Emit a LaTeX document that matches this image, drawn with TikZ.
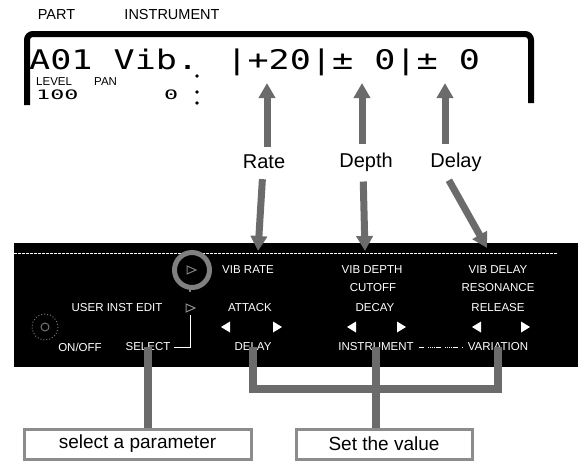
\documentclass[tikz,border=0pt]{standalone}
\usepackage{fontspec}
\setmainfont{Liberation Sans}
\newfontfamily\lcdfont[FakeStretch=1.3]{DejaVu Sans Mono}
\newfontfamily\lcdsmall[FakeStretch=1.8]{DejaVu Sans Mono}
\usetikzlibrary{arrows.meta}
\begin{document}
\begin{tikzpicture}[x=1pt,y=-1pt,
  lbl/.style={font=\fontsize{14.5}{16}\selectfont, inner sep=0},
  lcd/.style={font=\lcdfont\fontsize{27}{30}\selectfont, inner sep=0, anchor=base west},
  lcds/.style={font=\lcdsmall\fontsize{13}{14}\selectfont, inner sep=0, anchor=base west},
  tiny/.style={font=\fontsize{11.5}{12}\selectfont, inner sep=0, anchor=base west},
  pl/.style={text=white, font=\fontsize{11.5}{13}\selectfont, inner sep=0},
  big/.style={font=\fontsize{20}{22}\selectfont, inner sep=0},
  stip/.style={draw=black!58, line width=7pt},
  arr/.style={stip, -{Triangle[width=16pt,length=15pt]}},
  conn/.style={draw=black!58, line width=8pt},
  boxed/.style={draw=black!45, line width=3pt, fill=white, minimum height=30pt, inner sep=0, font=\fontsize{19}{21}\selectfont}
]
\useasboundingbox (0,0) rectangle (580,461);

% top labels
\node[lbl] (part) at (56.5,15) {PART};
\node[lbl] (instr) at (172,15) {INSTRUMENT};

% LCD frame
\draw[line width=6pt, rounded corners=6pt] (27,105) -- (27,34) -- (531,34) -- (531,103);
\node[lcd] (lcdrow) at (29,69) {A01 Vib. |+20|± 0|± 0};
\node[tiny] (level) at (36,85) {LEVEL};
\node[tiny] (pan) at (94,85) {PAN};
\node[lcds] (levval) at (36,99) {100};
\node[lcds] (panval) at (164,99) {0};
\fill (197,76) circle (1.8) (197,92) circle (1.8) (197,103) circle (1.8);

% arrow tips at LCD
\coordinate (rateTip) at (267,83);
\coordinate (depthTip) at (362,83);
\coordinate (delayTip) at (445,83);

% labels
\node[big] (rate) at (264,162) {Rate};
\node[big] (depth) at (366,162) {Depth};
\node[big] (delay) at (456,162) {Delay};

\draw[arr, shorten <=8pt] (rate.north -| rateTip) -- (rateTip);
\draw[arr, shorten <=8pt] (depth.north -| depthTip) -- (depthTip);
\draw[arr, shorten <=8pt] (delay.north -| delayTip) -- (delayTip);

% panel
\fill (14,243) rectangle (578,367);
\draw[white, line width=0.6pt, dash pattern=on 3pt off 1pt] (14,253) -- (558,253);

\coordinate (rateDn) at (258,251);
\coordinate (depthDn) at (365,251);
\coordinate (delayDn) at (487,248);
\draw[arr, shorten <=10pt] (rate.south) ++(-1,0) -- (rateDn);
\draw[arr, shorten <=10pt] (depth.south) ++(-3,0) -- (depthDn);
\draw[arr, shorten <=10pt] (delay.south) ++(-12,0) -- (delayDn);

% LED ring
\draw[black!50, line width=5pt] (192,270) circle (17.5);
\draw[black!50, line width=1pt] (187,266) -- (196,270) -- (187,274) -- cycle;
\draw[black!50, line width=2pt] (190,287) -- (190,292);

% knob
\draw[black!55, dotted, line width=1pt] (45,327) circle (13);
\draw[black!55, line width=1pt] (45,327) circle (4);

% panel texts
\node[pl] (vibrate) at (248,270) {VIB RATE};
\node[pl] (vibdepth) at (372,270) {VIB DEPTH};
\node[pl] (vibdelay) at (498,270) {VIB DELAY};
\node[pl] (cutoff) at (373,288) {CUTOFF};
\node[pl] (reso) at (498,288) {RESONANCE};
\node[pl] (uie) at (117,308) {USER INST EDIT};
\node[pl] (attack) at (250,308) {ATTACK};
\node[pl] (decay) at (375,308) {DECAY};
\node[pl] (release) at (498,308) {RELEASE};
\node[pl] (onoff) at (80,347) {ON/OFF};
\node[pl] (select) at (148,347) {SELECT};
\node[pl] (pdelay) at (253,347) {DELAY};
\node[pl] (pinstr) at (376,347) {INSTRUMENT};
\node[pl] (pvar) at (498,347) {VARIATION};

\draw[black!45, line width=1pt] (186,304) -- (195,308) -- (186,312) -- cycle;
\coordinate (selUp) at (190,315);
\draw[white, line width=0.9pt] (select.east) ++(3,0) -| (selUp);
\draw[white, line width=0.6pt, dash pattern=on 5pt off 4pt on 1pt off 1pt on 1pt off 1pt on 1pt off 1pt on 1pt off 1pt] (pinstr.east) ++(5,0) -- ([xshift=-5pt]pvar.west);

% triangles
\foreach \x in {226,352,477}{\fill[white] (\x+4,321.5) -- (\x+4,332.5) -- (\x-5,327) -- cycle;}
\foreach \x in {277,401,525}{\fill[white] (\x-4,321.5) -- (\x-4,332.5) -- (\x+5,327) -- cycle;}

% bottom boxes
\node[boxed, minimum width=227pt] (selbox) at (137.5,444) {select a parameter};
\node[boxed, minimum width=176pt] (setbox) at (384,444) {Set the value};

\coordinate (bar) at (376,389);
\draw[conn] ([yshift=4pt]select.south) -- (select.south |- selbox.north);
\draw[conn] ([yshift=4pt]pdelay.south) |- (bar) -| ([yshift=4pt]pvar.south);
\draw[conn] ([yshift=4pt]pinstr.south) -- (pinstr.south |- setbox.north);
\end{tikzpicture}
\end{document}
